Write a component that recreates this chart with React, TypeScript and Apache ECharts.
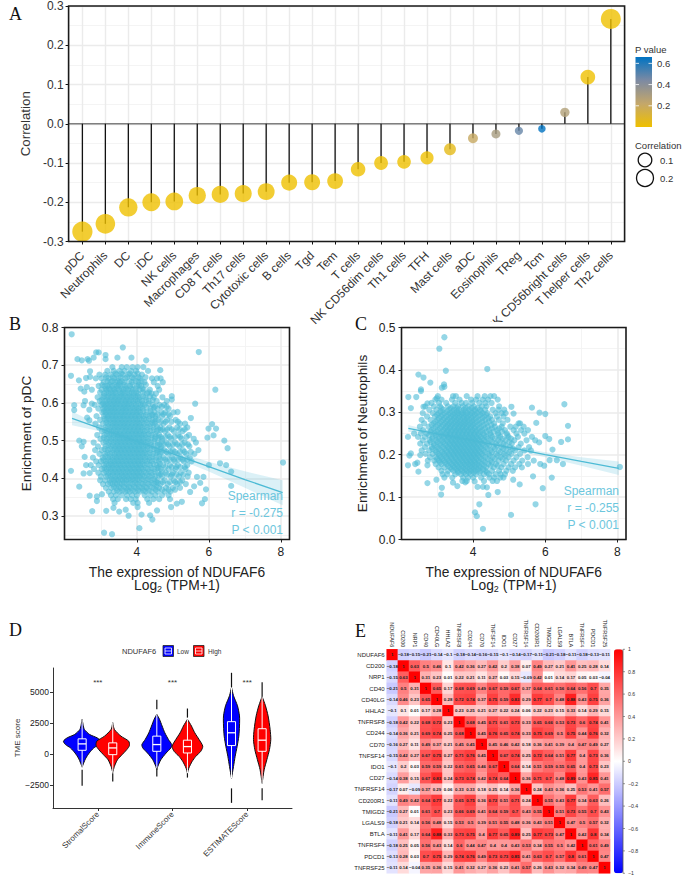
import React, { useEffect, useRef } from "react";
import * as echarts from "echarts";

const SANS = "Liberation Sans";
const SERIF = "Liberation Serif";

// ---------- Panel A ----------
const cellTypes = ["pDC","Neutrophils","DC","iDC","NK cells","Macrophages","CD8 T cells","Th17 cells","Cytotoxic cells","B cells","Tgd","Tem","T cells","NK CD56dim cells","Th1 cells","TFH","Mast cells","aDC","Eosinophils","TReg","Tcm","NK CD56bright cells","T helper cells","Th2 cells"];
const correlations = [-0.275,-0.255,-0.213,-0.2,-0.198,-0.183,-0.18,-0.178,-0.173,-0.15,-0.149,-0.146,-0.116,-0.1,-0.097,-0.087,-0.065,-0.037,-0.026,-0.018,-0.013,0.029,0.119,0.267];
const pValues = [0.001,0.001,0.001,0.001,0.001,0.001,0.001,0.001,0.001,0.001,0.001,0.001,0.001,0.001,0.001,0.002,0.05,0.2,0.3,0.47,0.65,0.27,0.001,0.001];
const pTicks = [0.6, 0.4, 0.2];
const pColors = ["#EFC000", "#C4A76A", "#7C8AA3", "#0073C2"];

// ---------- Panel B ----------
const pdcOutliers = [[2.19,.782],[3.61,.747],[5.72,.735],[2.35,.716],[2.47,.713],[2.63,.716],[2.67,.712],[2.8,.72],[2.87,.734],[2.94,.734],[3.13,.727],[3.13,.716],[3.46,.72],[3.85,.72],[4.26,.713],[2.17,.672],[2.39,.66],[2.59,.666],[2.7,.684],[2.7,.669],[2.44,.638],[2.61,.642],[2.75,.635],[2.54,.63],[2.26,.594],[2.26,.581],[2.56,.605],[2.52,.594],[2.68,.582],[2.62,.561],[2.68,.554],[2.75,.598],[4.65,.687],[6.18,.635],[4.97,.618],[4.97,.609],[5.62,.598],[5.5,.56],[5.13,.576],[6.09,.544],[6.2,.532],[5.99,.532],[6.13,.514],[5.96,.508],[6.43,.5],[6.52,.48],[8.06,.442],[6,.435],[6.31,.44],[6.48,.435],[6.62,.418],[6.62,.38],[5.85,.404],[5.92,.371],[5.76,.388],[5.89,.345],[5.81,.334],[5.59,.379],[5.48,.364],[5.67,.404],[2.17,.42],[2.4,.378],[2.69,.354],[2.89,.352],[2.89,.34],[3.03,.358],[2.76,.313],[3.15,.314],[3.35,.322],[3.51,.312],[3.69,.317],[3.77,.301],[3.09,.256],[3.31,.252],[4.07,.268],[4.13,.304],[4.02,.324],[4.37,.302],[4.43,.291],[4.56,.315],[4.95,.324],[5.25,.338],[5.11,.333],[2.4,.5],[2.52,.497],[2.47,.485],[2.55,.457],[2.59,.435],[2.52,.413],[2.69,.414]];
const pdcCoreRows: [number, number[]][] = [
[.695,[3.32,3.58,3.72,3.88,4.02,4.18]],
[.685,[3.18,3.36,3.52,3.66,3.84,3.98,4.31]],
[.675,[2.96,3.12,3.28,3.44,3.61,3.77,3.93,4.14]],
[.665,[2.86,3.02,3.21,3.37,3.49,3.68,3.91,4.09,4.42,4.56,4.66]],
[.655,[3.08,3.26,3.41,3.53,3.64,3.86,4.04,4.21,4.47,4.72]],
[.645,[2.94,3.11,3.19,3.31,3.46,3.55,3.72,3.81,4.01,4.12,4.58]],
[.635,[3.02,3.16,3.27,3.38,3.5,3.63,3.75,3.89,4.07,4.19,4.36,4.62]],
[.625,[3.09,3.22,3.33,3.43,3.57,3.66,3.79,3.92,4.03,4.28,4.41,4.53]],
[.615,[2.91,3.05,3.18,3.29,3.4,3.51,3.62,3.73,3.84,3.96,4.08,4.24,4.47,4.71]],
[.605,[2.97,3.13,3.24,3.35,3.46,3.56,3.68,3.78,3.9,4.02,4.14,4.33,4.55,4.83]],
[.595,[2.83,3.01,3.1,3.21,3.32,3.42,3.53,3.64,3.74,3.85,3.97,4.11,4.22,4.44,4.63,4.76]],
[.585,[2.93,3.07,3.17,3.28,3.38,3.49,3.6,3.7,3.81,3.93,4.04,4.16,4.38,4.57,4.88]],
[.575,[3.04,3.14,3.25,3.35,3.45,3.56,3.66,3.77,3.88,3.99,4.09,4.27,4.49,4.68,4.79,5.02]],
[.565,[2.88,3.09,3.2,3.31,3.41,3.52,3.62,3.73,3.84,3.95,4.06,4.18,4.35,4.52,4.7,4.92]],
[.555,[2.98,3.15,3.26,3.37,3.47,3.58,3.69,3.79,3.9,4.01,4.13,4.26,4.43,4.6,4.84,5.08]],
[.545,[2.85,3.06,3.21,3.33,3.43,3.54,3.64,3.75,3.86,3.97,4.07,4.2,4.36,4.51,4.74,5.2,5.34]],
[.535,[2.95,3.12,3.27,3.38,3.49,3.6,3.7,3.81,3.92,4.03,4.14,4.29,4.46,4.65,4.9,5.12,5.4]],
[.525,[3.03,3.18,3.3,3.42,3.53,3.65,3.76,3.87,3.98,4.09,4.21,4.37,4.55,4.78,5.03,5.27]],
[.515,[2.9,3.1,3.24,3.36,3.47,3.58,3.69,3.8,3.91,4.02,4.13,4.25,4.41,4.62,4.86,5.15,5.45]],
[.505,[2.99,3.16,3.29,3.41,3.52,3.63,3.74,3.85,3.96,4.07,4.18,4.32,4.5,4.7,4.95,5.24,5.58]],
[.495,[2.8,3.07,3.22,3.35,3.46,3.57,3.68,3.79,3.9,4.01,4.12,4.24,4.39,4.58,4.82,5.06,5.33,5.64]],
[.485,[2.92,3.13,3.28,3.4,3.51,3.62,3.73,3.84,3.95,4.06,4.17,4.3,4.47,4.68,4.91,5.18,5.46]],
[.475,[2.84,3.02,3.19,3.34,3.45,3.56,3.67,3.78,3.89,4.0,4.11,4.23,4.38,4.56,4.76,5.0,5.28,5.71]],
[.465,[2.96,3.11,3.25,3.39,3.5,3.61,3.72,3.83,3.94,4.05,4.16,4.28,4.45,4.64,4.87,5.11,5.37,5.6]],
[.455,[2.78,3.05,3.2,3.33,3.44,3.55,3.66,3.77,3.88,3.99,4.1,4.22,4.36,4.53,4.74,4.98,5.21,5.47]],
[.445,[2.87,3.0,3.14,3.27,3.38,3.49,3.6,3.71,3.82,3.93,4.04,4.15,4.29,4.42,4.61,4.83,5.05,5.3,5.52]],
[.435,[2.72,2.94,3.09,3.22,3.32,3.43,3.54,3.65,3.76,3.87,3.98,4.09,4.21,4.37,4.55,4.73,4.92,5.14,5.4]],
[.425,[2.81,3.03,3.16,3.28,3.39,3.5,3.61,3.72,3.83,3.94,4.05,4.16,4.31,4.48,4.66,4.88,5.08,5.35]],
[.415,[2.93,3.08,3.22,3.34,3.45,3.57,3.68,3.79,3.9,4.01,4.12,4.26,4.41,4.59,4.8,5.0,5.22,5.44]],
[.405,[3.0,3.15,3.27,3.4,3.52,3.63,3.74,3.86,3.97,4.08,4.2,4.35,4.51,4.7,4.94,5.17,5.41]],
[.395,[2.98,3.12,3.25,3.37,3.48,3.6,3.71,3.83,3.95,4.07,4.23,4.39,4.57,4.77,5.03,5.26]],
[.385,[3.06,3.2,3.33,3.45,3.58,3.72,3.88,4.02,4.17,4.33,4.49,4.66,4.86,5.12,5.36]],
[.375,[3.14,3.29,3.43,3.56,3.71,3.84,3.99,4.14,4.28,4.46,4.62,4.81,5.0,5.2]],
[.365,[3.22,3.36,3.52,3.68,3.8,3.95,4.1,4.25,4.42,4.58,4.77,4.93]],
[.355,[3.28,3.42,3.58,3.73,3.87,4.0,4.22,4.38,4.52,4.7,4.88]],
[.345,[3.34,3.47,3.7,3.83,3.97,4.29,4.46,4.62,4.92]],
[.335,[3.38,3.9,4.02,4.34]],
];
const pdcDenseRows: [number, number[]][] = [
[.678,[3.41,3.57,3.8,4.02]],
[.668,[3.15,3.33,3.55,3.73,3.87,4.04,4.24]],
[.658,[3.18,3.32,3.47,3.58,3.79,3.97,4.13]],
[.648,[3.04,3.24,3.39,3.5,3.66,3.88,4.06,4.25]],
[.638,[3.13,3.23,3.35,3.44,3.58,3.7,3.85,3.98,4.15]],
[.628,[2.98,3.15,3.28,3.39,3.52,3.61,3.74,3.86,3.99,4.17,4.33]],
[.618,[3.09,3.21,3.34,3.45,3.56,3.67,3.79,3.9,4.02,4.17,4.37]],
[.608,[3.03,3.18,3.3,3.4,3.5,3.62,3.72,3.84,3.96,4.08,4.26,4.44]],
[.598,[3.06,3.16,3.26,3.37,3.47,3.58,3.69,3.79,3.91,4.04,4.17,4.33]],
[.588,[3.12,3.22,3.33,3.43,3.55,3.65,3.75,3.87,3.98,4.1,4.27,4.47]],
[.578,[3.09,3.2,3.3,3.4,3.5,3.61,3.71,3.82,3.93,4.04,4.18,4.38]],
[.568,[3.15,3.25,3.36,3.46,3.57,3.67,3.78,3.89,4.0,4.12,4.26,4.43]],
[.558,[3.1,3.21,3.32,3.42,3.53,3.63,3.74,3.85,3.96,4.07,4.2,4.34,4.52]],
[.548,[3.15,3.27,3.38,3.48,3.59,3.69,3.8,3.91,4.02,4.13,4.28,4.43]],
[.538,[3.2,3.33,3.44,3.54,3.65,3.75,3.86,3.97,4.08,4.21,4.37,4.56]],
[.528,[3.11,3.24,3.36,3.47,3.59,3.7,3.81,3.92,4.03,4.15,4.29,4.46,4.66]],
[.518,[3.17,3.3,3.42,3.53,3.64,3.75,3.86,3.97,4.08,4.19,4.33,4.51]],
[.508,[3.08,3.23,3.35,3.47,3.58,3.69,3.8,3.91,4.02,4.13,4.26,4.41,4.6]],
[.498,[3.14,3.28,3.41,3.52,3.63,3.74,3.85,3.96,4.07,4.18,4.31,4.48,4.7]],
[.488,[3.21,3.34,3.46,3.57,3.68,3.79,3.9,4.01,4.12,4.24,4.39,4.58]],
[.478,[3.11,3.27,3.4,3.51,3.62,3.73,3.84,3.95,4.06,4.17,4.3,4.47,4.66]],
[.468,[3.18,3.32,3.45,3.56,3.67,3.78,3.89,4.0,4.11,4.22,4.36,4.54]],
[.458,[3.12,3.26,3.39,3.5,3.61,3.72,3.83,3.94,4.05,4.16,4.29,4.44,4.62]],
[.448,[3.07,3.21,3.33,3.44,3.55,3.66,3.77,3.88,3.99,4.1,4.22,4.36,4.52]],
[.438,[3.15,3.27,3.38,3.49,3.6,3.71,3.82,3.93,4.04,4.15,4.29,4.46,4.64]],
[.428,[3.1,3.22,3.33,3.45,3.56,3.67,3.78,3.89,4.0,4.11,4.24,4.4,4.57]],
[.418,[3.15,3.28,3.4,3.51,3.62,3.74,3.85,3.96,4.07,4.19,4.34,4.5,4.7]],
[.408,[3.2,3.33,3.46,3.58,3.69,3.8,3.92,4.03,4.14,4.28,4.43,4.61]],
[.398,[3.3,3.42,3.54,3.66,3.78,3.89,4.01,4.15,4.31,4.48]],
[.388,[3.26,3.39,3.52,3.65,3.8,3.95,4.1,4.25,4.41,4.58]],
[.378,[3.36,3.5,3.64,3.78,3.92,4.06,4.21,4.37,4.54]],
[.368,[3.45,3.6,3.74,3.88,4.03,4.18,4.33]],
];
const pdcRightRows: [number, number[]][] = [
[.59,[4.5,4.69,4.83]],
[.57,[4.42,4.58,4.74,4.88]],
[.55,[4.5,4.67,4.8,4.96,5.14]],
[.53,[4.6,4.72,4.84,4.97,5.18,5.33]],
[.51,[4.52,4.66,4.79,4.91,5.05,5.2,5.38]],
[.49,[4.63,4.75,4.87,5.0,5.12,5.26,5.42]],
[.47,[4.58,4.7,4.82,4.94,5.06,5.2,5.33,5.5]],
[.45,[4.66,4.79,4.91,5.03,5.15,5.27,5.4]],
[.43,[4.61,4.79,4.97,5.09,5.21,5.33]],
[.41,[4.66,4.84,4.97,5.1,5.29]],
[.39,[4.54,4.72,4.92,5.07,5.2]],
[.37,[4.52,4.7,4.88,5.06]],
];
const pdcFitX = [2.2,3,4,5,6,7,8.05];
const pdcFitY = [.559,.532,.498,.465,.431,.397,.362];
const pdcBand = [.018,.008,.005,.008,.013,.022,.033];

// ---------- Panel C ----------
const neuOutliers = [[3.2,.477],[3.06,.45],[3.24,.398],[2.48,.389],[2.62,.382],[2.81,.37],[4.39,.402],[3.19,.366],[3.13,.358],[3.2,.36],[2.55,.354],[2.55,.35],[2.2,.336],[2.42,.336],[2.27,.31],[2.62,.313],[2.73,.321],[2.99,.333],[6.53,.319],[5.06,.313],[5.63,.311],[5.84,.299],[6,.296],[5.12,.297],[5.75,.275],[6.63,.268],[5.26,.274],[2.19,.242],[2.36,.25],[6,.244],[6.11,.237],[6.63,.236],[6.44,.23],[5.83,.229],[6.2,.212],[2.27,.203],[2.23,.198],[2.53,.199],[2.19,.175],[2.39,.178],[2.45,.181],[2.48,.16],[2.73,.175],[2.73,.133],[2.98,.141],[3.13,.122],[3.11,.106],[6.32,.187],[6.49,.178],[6.12,.187],[8.07,.171],[5.86,.178],[5.97,.174],[5.66,.149],[6.18,.146],[5.93,.121],[5.73,.083],[5.29,.13],[5.11,.141],[5.05,.058],[4.27,.025],[4.05,.064],[4.1,.055],[4.17,.083],[4.42,.105],[4.68,.112],[4.38,.123],[4.12,.124],[4.27,.124],[3.44,.134],[3.56,.126],[3.78,.135],[4.04,.137]];
const neuCoreRows: [number, number[]][] = [
[.338,[3.02,3.44,3.52,3.82,4.12,4.32,4.48,4.58]],
[.33,[2.95,3.12,3.41,3.62,3.94,4.08,4.26,4.41,4.68]],
[.322,[2.84,3.05,3.25,3.5,3.68,3.8,3.97,4.17,4.34,4.51]],
[.314,[2.67,2.91,3.08,3.3,3.45,3.58,3.71,3.86,4.02,4.24,4.37,4.72]],
[.306,[2.78,2.98,3.17,3.33,3.47,3.6,3.74,3.89,4.05,4.19,4.33,4.54,4.7,4.86]],
[.298,[2.6,2.88,3.04,3.2,3.35,3.48,3.59,3.71,3.83,3.96,4.1,4.26,4.39,4.62,4.79,4.9]],
[.29,[2.72,2.94,3.11,3.26,3.39,3.5,3.62,3.74,3.85,3.99,4.14,4.3,4.47,4.66,4.84]],
[.282,[2.57,2.82,3.0,3.16,3.29,3.42,3.54,3.65,3.77,3.88,4.01,4.16,4.33,4.52,4.71,4.95]],
[.274,[2.64,2.9,3.07,3.22,3.34,3.46,3.57,3.68,3.79,3.91,4.03,4.18,4.36,4.58,4.82,5.3]],
[.266,[2.52,2.76,2.96,3.12,3.25,3.37,3.49,3.6,3.71,3.82,3.94,4.06,4.22,4.4,4.6,4.79,5.03,5.18,5.4]],
[.258,[2.61,2.84,3.02,3.18,3.3,3.42,3.53,3.64,3.75,3.86,3.98,4.1,4.25,4.44,4.66,4.88,5.12,5.33,5.52]],
[.25,[2.55,2.71,2.93,3.09,3.23,3.35,3.47,3.58,3.69,3.8,3.91,4.02,4.14,4.29,4.47,4.69,4.93,5.2,5.42]],
[.242,[2.47,2.66,2.88,3.05,3.19,3.31,3.43,3.54,3.65,3.76,3.87,3.98,4.09,4.21,4.36,4.53,4.75,4.98,5.24,5.63]],
[.234,[2.6,2.79,2.97,3.13,3.27,3.39,3.5,3.61,3.72,3.83,3.94,4.05,4.16,4.3,4.48,4.69,4.9,5.14,5.48,5.72]],
[.226,[2.53,2.72,2.91,3.08,3.22,3.35,3.46,3.57,3.68,3.79,3.9,4.01,4.12,4.25,4.41,4.62,4.84,5.07,5.32]],
[.218,[2.66,2.85,3.0,3.16,3.3,3.42,3.53,3.64,3.75,3.86,3.97,4.08,4.2,4.35,4.56,4.78,5.02,5.26,5.55]],
[.21,[2.57,2.78,2.95,3.11,3.26,3.38,3.49,3.6,3.71,3.82,3.93,4.04,4.15,4.29,4.48,4.7,4.92,5.16,5.42,5.6]],
[.202,[2.68,2.87,3.03,3.19,3.33,3.45,3.56,3.67,3.78,3.89,4.0,4.11,4.24,4.42,4.63,4.85,5.06,5.3]],
[.194,[2.8,2.96,3.1,3.25,3.38,3.5,3.62,3.73,3.84,3.95,4.06,4.18,4.34,4.54,4.76,4.98,5.2,5.51]],
[.186,[2.74,2.92,3.05,3.18,3.32,3.45,3.57,3.69,3.8,3.91,4.02,4.14,4.29,4.48,4.7,4.91,5.12,5.36,5.68]],
[.178,[2.96,3.12,3.26,3.4,3.52,3.64,3.76,3.87,3.98,4.1,4.24,4.42,4.63,4.84,5.05,5.28,5.52]],
[.17,[3.04,3.2,3.36,3.48,3.6,3.72,3.84,3.96,4.08,4.2,4.36,4.57,4.78,4.98,5.16,5.35]],
[.162,[3.12,3.3,3.45,3.57,3.7,3.82,3.94,4.06,4.2,4.35,4.52,4.72,4.92,5.1]],
[.154,[3.15,3.28,3.5,3.66,3.8,3.93,4.08,4.3,4.44,4.62,4.76,4.88]],
[.146,[3.2,3.42,3.72,3.86,4.0,4.22,4.45,4.58,4.75,4.84]],
[.138,[3.7,3.82,4.3,4.54,4.66]],
];
const neuDenseRows: [number, number[]][] = [
[.31,[3.12,3.38,3.55,3.79,3.96,4.12]],
[.302,[3.1,3.27,3.42,3.55,3.67,3.79,3.93,4.06,4.22]],
[.294,[3.0,3.15,3.31,3.44,3.56,3.68,3.8,3.92,4.05,4.2,4.36]],
[.286,[3.05,3.2,3.35,3.47,3.59,3.71,3.83,3.95,4.08,4.25,4.42]],
[.278,[2.95,3.11,3.26,3.38,3.5,3.62,3.74,3.84,3.97,4.1,4.25,4.44]],
[.27,[2.85,3.02,3.17,3.3,3.41,3.53,3.64,3.75,3.87,3.98,4.12,4.29,4.5]],
[.262,[2.9,3.08,3.23,3.35,3.47,3.58,3.69,3.8,3.92,4.04,4.17,4.33,4.52,4.72]],
[.254,[2.82,2.99,3.14,3.28,3.39,3.51,3.62,3.73,3.84,3.95,4.07,4.2,4.37,4.57,4.8]],
[.246,[2.78,2.96,3.12,3.26,3.37,3.49,3.6,3.71,3.82,3.93,4.04,4.16,4.31,4.49,4.7,4.95]],
[.238,[2.86,3.03,3.18,3.32,3.44,3.56,3.67,3.78,3.89,4.0,4.11,4.24,4.4,4.6,4.82,5.05]],
[.23,[2.82,3.0,3.16,3.3,3.42,3.53,3.64,3.75,3.86,3.97,4.08,4.2,4.34,4.53,4.75,5.0]],
[.222,[2.92,3.08,3.24,3.37,3.49,3.6,3.71,3.82,3.93,4.04,4.15,4.28,4.45,4.66,4.9]],
[.214,[2.87,3.04,3.2,3.33,3.45,3.56,3.67,3.78,3.89,4.0,4.11,4.23,4.4,4.6,4.84,5.1]],
[.206,[2.98,3.14,3.28,3.41,3.52,3.63,3.74,3.85,3.96,4.07,4.18,4.33,4.52,4.76,5.0]],
[.198,[3.06,3.2,3.34,3.46,3.58,3.69,3.8,3.91,4.02,4.13,4.27,4.46,4.68,4.9]],
[.19,[3.0,3.14,3.28,3.41,3.53,3.65,3.76,3.87,3.98,4.09,4.22,4.4,4.6,4.82]],
[.182,[3.08,3.22,3.35,3.48,3.6,3.72,3.83,3.94,4.05,4.17,4.33,4.52]],
[.174,[3.3,3.44,3.56,3.68,3.8,3.92,4.04,4.16,4.3,4.48,4.68]],
[.166,[3.4,3.54,3.66,3.78,3.9,4.02,4.14,4.28]],
[.158,[3.58,3.74,3.88,4.02,4.18,4.38]],
];
const neuFitX = [2.2,3,4,5,6,7,8.04];
const neuFitY = [.262,.249,.233,.217,.2,.184,.168];
const neuBand = [.008,.004,.002,.004,.006,.01,.016];

// ---------- Panel D ----------
const scoreNames = ["StromalScore","ImmuneScore","ESTIMATEScore"];
const scoreTicks = [-2500,0,2500,5000];
const violinCentres = [0.79,1.2,1.79,2.2,2.79,3.2];
const violinFills = ["#0000FF","#FF0000","#0000FF","#FF0000","#0000FF","#FF0000"];
const violinLevels = [
 [2799,2391,1983,1576,1304,1032,761,489,82,-326,-734,-1060],
 [2527,1983,1440,1032,679,353,-54,-462,-1005,-1494],
 [3206,2799,2255,1712,1168,761,489,82,-462,-1005,-1277],
 [2799,2255,1712,1168,625,217,-190,-598,-1141,-1549],
 [5380,4700,3885,3070,2255,1440,625,-190,-1005,-1956],
 [4646,3885,3070,1983,1168,353,-462,-1277,-2364],
];
const violinWidths = [
 [0,.012,.03,.1,.2,.25,.223,.156,.095,.05,.02,0],
 [0,.022,.11,.214,.223,.188,.125,.063,.022,0],
 [0,.036,.071,.107,.156,.2,.188,.125,.054,.013,0],
 [0,.054,.098,.156,.205,.179,.112,.063,.018,0],
 [0,.027,.08,.107,.107,.098,.076,.049,.027,0],
 [0,.045,.08,.107,.116,.098,.063,.027,0],
];
const boxQ1 = [299,-54,217,82,679,217];
const boxMedian = [815,489,761,598,1712,1114];
const boxQ3 = [1223,897,1440,1114,2608,2038];
const outlierRuns = [
 [[-1277,-2554]],
 [[-1549,-2228]],
 [[3614,4374],[-1141,-1820]],
 [[2934,3668],[-1549,-1902]],
 [[5380,6548],[-2771,-3940]],
 [[4646,5787],[-2771,-3722]],
];
const sigY = 5733;

// ---------- Panel E ----------
const genes = ["NDUFAF6","CD200","NRP1","CD40","CD40LG","HHLA2","TNFRSF8","CD244","CD70","TNFSF14","IDO1","CD27","TNFRSF14","CD200R1","TMIGD2","LGALS9","BTLA","TNFRSF4","PDCD1","TNFRSF25"];
const corrUpper = [
 [1,-.18,-.15,-.21,-.14,-.1,-.18,-.14,-.16,-.15,-.1,-.14,-.17,-.11,-.21,-.18,-.11,-.18,-.13,-.11],
 [1,.63,.5,.46,.1,.42,.36,.27,.42,.2,.38,.07,.49,.27,.21,.41,.25,.28,.14],
 [1,.31,.23,.01,.22,.21,.11,.27,.03,.15,-.09,.42,.01,.14,.17,.05,.03,-.04],
 [1,.65,.17,.68,.69,.49,.67,.59,.67,.37,.64,.61,.56,.64,.56,.7,.35],
 [1,.28,.72,.74,.37,.75,.59,.83,.29,.77,.7,.48,.88,.43,.75,.36],
 [1,.23,.25,.21,.27,.22,.24,.06,.22,.23,.15,.33,.14,.29,.15],
 [1,.68,.45,.71,.61,.73,.33,.65,.66,.53,.73,.6,.74,.41],
 [1,.45,.76,.65,.74,.33,.75,.69,.5,.75,.44,.76,.32],
 [1,.45,.46,.42,.18,.36,.41,.39,.4,.47,.49,.27],
 [1,.67,.74,.25,.72,.64,.51,.77,.4,.73,.36],
 [1,.64,.14,.51,.59,.55,.65,.4,.73,.23],
 [1,.36,.71,.7,.48,.89,.43,.85,.41],
 [1,.24,.43,.36,.25,.53,.41,.57],
 [1,.55,.43,.77,.34,.63,.26],
 [1,.51,.73,.55,.7,.43],
 [1,.47,.5,.57,.32],
 [1,.42,.8,.34],
 [1,.61,.49],
 [1,.47],
 [1],
];
const corrBarTicks = [1,.8,.6,.4,.2,0,-.2,-.4,-.6,-.8,-1];

// ---------- helpers ----------
const TEAL = "#4DBBD5";
const flatten = (rows: [number, number[]][]) => rows.flatMap(([y, xs]) => xs.map((x) => [x, y]));
const signed = (v: number) => String(v).replace("-", "\u2212");
const txt = (x: number, y: number, text: string, o: any = {}) => ({
  type: "text", x, y, z: 20, silent: true,
  style: { text, fill: o.fill || "#222", fontSize: o.size || 11, fontFamily: o.family || SANS, align: o.align || "left", verticalAlign: "middle" },
});
const box = (b: any) => ({ type: "rect", z: 15, silent: true, shape: { x: b.left, y: b.top, width: b.width, height: b.height }, style: { fill: "none", stroke: "#1a1a1a", lineWidth: 1.6 } });

function scatterAxes(grid: number, xMin: number, xMax: number, yMin: number, yMax: number, yMajor: number[], yMinor: number[], yTitle: string, yGap: number) {
  const xMajor = [4, 6, 8];
  const xMinor = [3, 5, 7];
  const font = { color: "#222", fontFamily: SANS, fontSize: 12 };
  const major = { show: true, lineStyle: { color: "#EBEBEB", width: 1.6 } };
  const minor = { show: true, lineStyle: { color: "#F3F3F3", width: 0.9 } };
  const x = [
    { type: "value", gridIndex: grid, min: xMin, max: xMax, z: 2,
      name: "The expression of NDUFAF6\n{t|Log}{s|2}{t| (TPM+1)}", nameLocation: "middle", nameGap: 26,
      nameTextStyle: { fontFamily: SANS, fontSize: 13.8, color: "#222", lineHeight: 13.5, rich: { t: { fontFamily: SANS, fontSize: 13.8, color: "#222" }, s: { fontFamily: SANS, fontSize: 9, color: "#222", padding: [6, 0, 0, 0] } } },
      axisLine: { show: false, onZero: false }, axisTick: { show: true, length: 3, customValues: xMajor, lineStyle: { color: "#222" } },
      axisLabel: { ...font, margin: 6, customValues: xMajor, formatter: (v: number) => String(v) }, splitLine: major },
    { type: "value", gridIndex: grid, min: xMin, max: xMax, z: 2, position: "top",
      axisLine: { show: false, onZero: false }, axisTick: { show: false, customValues: xMinor }, axisLabel: { show: false, customValues: xMinor }, splitLine: minor },
  ];
  const y = [
    { type: "value", gridIndex: grid, min: yMin, max: yMax, z: 2,
      name: yTitle, nameLocation: "middle", nameGap: yGap, nameTextStyle: { fontFamily: SANS, fontSize: 13.7, color: "#222" },
      axisLine: { show: false, onZero: false }, axisTick: { show: true, length: 3, customValues: yMajor, lineStyle: { color: "#222" } },
      axisLabel: { ...font, margin: 6, customValues: yMajor, formatter: (v: number) => v.toFixed(1) }, splitLine: major },
    { type: "value", gridIndex: grid, min: yMin, max: yMax, z: 2, position: "right",
      axisLine: { show: false, onZero: false }, axisTick: { show: false, customValues: yMinor }, axisLabel: { show: false, customValues: yMinor }, splitLine: minor },
  ];
  return { x, y };
}

function scatterSeries(axisIdx: number, pts: number[][], fitX: number[], fitY: number[], band: number[]) {
  return [
    { type: "scatter", xAxisIndex: axisIdx, yAxisIndex: axisIdx, z: 3, data: pts, symbolSize: 6.2, itemStyle: { color: TEAL, opacity: 0.6 }, silent: true },
    { type: "custom", xAxisIndex: axisIdx, yAxisIndex: axisIdx, z: 4, silent: true, data: [[fitX[0], fitY[0]]],
      renderItem: (_p: any, api: any) => {
        const up = fitX.map((x, i) => api.coord([x, fitY[i] + band[i]]));
        const lo = fitX.map((x, i) => api.coord([x, fitY[i] - band[i]])).reverse();
        return { type: "polygon", shape: { points: [...up, ...lo] }, style: { fill: "rgba(77,187,213,0.2)" } };
      } },
    { type: "line", xAxisIndex: axisIdx, yAxisIndex: axisIdx, z: 5, silent: true, data: fitX.map((x, i) => [x, fitY[i]]), showSymbol: false, lineStyle: { color: TEAL, width: 1.3 } },
  ];
}

export default function App() {
  const ref = useRef<HTMLDivElement>(null);
  useEffect(() => {
    const chart = echarts.init(ref.current!, null, { renderer: "svg" });

    const A = { left: 68.6, top: 6, width: 556, height: 235.5 };
    const B = { left: 64.5, top: 327.5, width: 225, height: 212 };
    const C = { left: 401.5, top: 327.5, width: 224.5, height: 212 };
    const D = { left: 53, top: 668, width: 239, height: 140 };
    const E = { left: 386.7, top: 649.3, width: 223.4, height: 224 };
    const sans = { fontFamily: SANS };

    const bAxes = scatterAxes(1, 1.99, 8.24, 0.238, 0.8, [.3,.4,.5,.6,.7,.8], [.25,.35,.45,.55,.65,.75], "Enrichment of pDC", 31);
    const cAxes = scatterAxes(2, 2.01, 8.24, 0, 0.5, [0,.1,.2,.3,.4,.5], [.05,.15,.25,.35,.45], "Enrichment of Neutrophils", 32);

    const corrData: number[][] = [];
    corrUpper.forEach((row, i) => row.forEach((v, k) => {
      corrData.push([i + k, i, v]);
      if (k > 0) corrData.push([i, i + k, v]);
    }));

    const xIdx = cellTypes.map((_, i) => i + 1);
    const option: any = {
      animation: false,
      backgroundColor: "#fff",
      textStyle: sans,
      grid: [
        { ...A, z: 0 },
        { ...B, z: 2 },
        { ...C, z: 2 },
        { ...D, z: 2 },
        { ...E, z: 2 },
      ],
      xAxis: [
        { type: "value", gridIndex: 0, min: 0.4, max: 24.6, z: 0,
          axisLine: { show: false, onZero: false },
          axisTick: { show: true, length: 3, customValues: xIdx, lineStyle: { color: "#111" } },
          axisLabel: { color: "#333", fontFamily: SANS, fontSize: 12, rotate: 45, margin: 12, customValues: xIdx, formatter: (v: number) => cellTypes[v - 1] },
          splitLine: { show: true, lineStyle: { color: "#EBEBEB", width: 1.4 } } },
        ...bAxes.x, ...cAxes.x,
        { type: "value", gridIndex: 3, min: 0.4, max: 3.6, z: 2,
          axisLine: { show: true, onZero: false, lineStyle: { color: "#333", width: 1 } },
          axisTick: { show: true, length: 3, customValues: [1,2,3], lineStyle: { color: "#333" } },
          axisLabel: { color: "#333", fontFamily: SANS, fontSize: 8, rotate: 45, margin: 5, customValues: [1,2,3], formatter: (v: number) => scoreNames[v - 1] },
          splitLine: { show: false } },
        { type: "category", gridIndex: 4, data: genes, position: "top", z: 2,
          axisLine: { show: false }, axisTick: { show: false },
          axisLabel: { color: "#222", fontFamily: SANS, fontSize: 5.5, rotate: 90, margin: 2, interval: 0 } },
      ],
      yAxis: [
        { type: "value", gridIndex: 0, min: -0.3, max: 0.3, interval: 0.1, z: 0,
          name: "Correlation", nameLocation: "middle", nameGap: 36, nameTextStyle: { fontFamily: SANS, fontSize: 13.3, color: "#333" },
          axisLine: { show: false, onZero: false },
          axisTick: { show: true, length: 3, lineStyle: { color: "#111" } },
          axisLabel: { color: "#333", fontFamily: SANS, fontSize: 12, margin: 5, formatter: (v: number) => (Math.abs(v) < 1e-9 ? "0.0" : v.toFixed(1)) },
          splitLine: { show: true, lineStyle: { color: "#EBEBEB", width: 1.4 } },
          minorTick: { show: false, splitNumber: 2 },
          minorSplitLine: { show: true, lineStyle: { color: "#F3F3F3", width: 0.9 } } },
        ...bAxes.y, ...cAxes.y,
        { type: "value", gridIndex: 3, min: -4355, max: 6935, z: 2,
          name: "TME score", nameLocation: "middle", nameGap: 28, nameTextStyle: { fontFamily: SANS, fontSize: 8, color: "#333" },
          axisLine: { show: true, onZero: false, lineStyle: { color: "#333", width: 1 } },
          axisTick: { show: true, length: 3, customValues: scoreTicks, lineStyle: { color: "#333" } },
          axisLabel: { color: "#222", fontFamily: SANS, fontSize: 8.5, margin: 4, customValues: scoreTicks, formatter: (v: number) => signed(v) },
          splitLine: { show: false } },
        { type: "category", gridIndex: 4, data: genes, inverse: true, z: 2,
          axisLine: { show: false }, axisTick: { show: false },
          axisLabel: { color: "#222", fontFamily: SANS, fontSize: 6, margin: 2, interval: 0 } },
      ],
      visualMap: [
        { type: "continuous", show: false, seriesIndex: 2, dimension: 2, min: 0, max: 0.65, inRange: { color: pColors } },
        { type: "continuous", show: true, seriesIndex: 10, dimension: 2, min: -1, max: 1, left: 614, top: 649.3, itemWidth: 9, itemHeight: 224, text: null, calculable: false, hoverLink: false, inRange: { color: ["#0000FF", "#FFFFFF", "#FF0000"] }, padding: 0 },
      ],
      series: [
        // 0: zero line of A
        { type: "line", xAxisIndex: 0, yAxisIndex: 0, z: 3, silent: true, showSymbol: false, data: [[0.4, 0], [24.6, 0]], lineStyle: { color: "#7f7f7f", width: 1.5 } },
        // 1: stems
        { type: "custom", xAxisIndex: 0, yAxisIndex: 0, z: 4, silent: true,
          data: correlations.map((c, i) => [i + 1, c]),
          renderItem: (_p: any, api: any) => {
            const a = api.coord([api.value(0), 0]);
            const b = api.coord([api.value(0), api.value(1)]);
            return { type: "line", shape: { x1: a[0], y1: a[1], x2: b[0], y2: b[1] }, style: { stroke: "#111", lineWidth: 1.3 } };
          } },
        // 2: lollipop heads
        { type: "scatter", xAxisIndex: 0, yAxisIndex: 0, z: 5, silent: true,
          data: correlations.map((c, i) => [i + 1, c, pValues[i]]),
          symbolSize: (v: number[]) => 4 + 31 * Math.sqrt(Math.abs(v[1])) },
        // 3-5: B, 6-8: C
        ...scatterSeries(1, [...pdcOutliers, ...flatten(pdcCoreRows), ...flatten(pdcDenseRows), ...flatten(pdcRightRows)], pdcFitX, pdcFitY, pdcBand),
        ...scatterSeries(3, [...neuOutliers, ...flatten(neuCoreRows), ...flatten(neuDenseRows)], neuFitX, neuFitY, neuBand),
        // 9: violins
        { type: "custom", xAxisIndex: 5, yAxisIndex: 5, z: 4, silent: true,
          data: violinCentres.map((c, i) => [c, boxMedian[i], i]),
          renderItem: (_p: any, api: any) => {
            const i = api.value(2);
            const cx = violinCentres[i];
            const lev = violinLevels[i];
            const wid = violinWidths[i];
            const right = lev.map((v, k) => api.coord([cx + wid[k], v]));
            const left = lev.map((v, k) => api.coord([cx - wid[k], v])).reverse();
            const top = api.coord([cx, lev[0]]);
            const bottom = api.coord([cx, lev[lev.length - 1]]);
            const hw = 0.054;
            const p1 = api.coord([cx - hw, boxQ3[i]]);
            const p2 = api.coord([cx + hw, boxQ1[i]]);
            const m1 = api.coord([cx - hw, boxMedian[i]]);
            const m2 = api.coord([cx + hw, boxMedian[i]]);
            const children: any[] = [
              { type: "polygon", shape: { points: [...right, ...left], smooth: 0.25 }, style: { fill: violinFills[i], stroke: "#111", lineWidth: 1 } },
              { type: "line", shape: { x1: top[0], y1: top[1], x2: bottom[0], y2: bottom[1] }, style: { stroke: "#fff", lineWidth: 1 } },
              { type: "rect", shape: { x: p1[0], y: p1[1], width: p2[0] - p1[0], height: p2[1] - p1[1] }, style: { fill: violinFills[i], stroke: "#fff", lineWidth: 1 } },
              { type: "line", shape: { x1: m1[0], y1: m1[1], x2: m2[0], y2: m2[1] }, style: { stroke: "#fff", lineWidth: 1.3 } },
            ];
            outlierRuns[i].forEach(([a, b]) => {
              const s = api.coord([cx, a]);
              const e = api.coord([cx, b]);
              children.push({ type: "line", shape: { x1: s[0], y1: s[1], x2: e[0], y2: e[1] }, style: { stroke: "#111", lineWidth: 1.2 } });
            });
            return { type: "group", children };
          } },
        // 10: heatmap
        { type: "heatmap", xAxisIndex: 6, yAxisIndex: 6, z: 3, silent: true, data: corrData,
          label: { show: true, fontSize: 4.4, fontWeight: "bold", color: "#222", fontFamily: SANS, formatter: (p: any) => signed(p.value[2]) } },
        // 11: significance stars
        { type: "custom", xAxisIndex: 5, yAxisIndex: 5, z: 5, silent: true,
          data: [[1, sigY], [2, sigY], [3, sigY]],
          renderItem: (_p: any, api: any) => {
            const c = api.coord([api.value(0), api.value(1)]);
            return { type: "text", x: c[0], y: c[1], style: { text: "***", fontSize: 8, fontFamily: SANS, fill: "#333", align: "center", verticalAlign: "middle" } };
          } },
      ],
      graphic: { elements: [
        // mask where panel C sits on top of the last long label of panel A
        { type: "rect", z: 1, silent: true, shape: { x: 340, y: 322, width: 345, height: 24 }, style: { fill: "#fff" } },
        box(A), box(B), box(C),
        // panel letters
        txt(9, 14, "A", { family: SERIF, size: 18, fill: "#111" }),
        txt(9, 324, "B", { family: SERIF, size: 18, fill: "#111" }),
        txt(355, 324, "C", { family: SERIF, size: 18, fill: "#111" }),
        txt(9, 630, "D", { family: SERIF, size: 18, fill: "#111" }),
        txt(355, 631, "E", { family: SERIF, size: 18, fill: "#111" }),
        // P value colour bar
        txt(635, 49, "P value", { size: 9.5, fill: "#333" }),
        { type: "rect", z: 20, silent: true, shape: { x: 635.5, y: 57, width: 16.5, height: 70 },
          style: { fill: new echarts.graphic.LinearGradient(0, 1, 0, 0, pColors.map((color, i) => ({ offset: i / (pColors.length - 1), color }))) } },
        ...pTicks.flatMap((p) => {
          const y = 127 - 70 * (p / 0.66);
          return [
            { type: "line", z: 21, silent: true, shape: { x1: 635.5, y1: y, x2: 639, y2: y }, style: { stroke: "#fff", lineWidth: 0.8 } },
            { type: "line", z: 21, silent: true, shape: { x1: 648.5, y1: y, x2: 652, y2: y }, style: { stroke: "#fff", lineWidth: 0.8 } },
            txt(657, y, p.toFixed(1), { size: 9.5, fill: "#333" }),
          ];
        }),
        // Correlation size legend
        txt(635, 145, "Correlation", { size: 9.5, fill: "#333" }),
        { type: "circle", z: 20, silent: true, shape: { cx: 645, cy: 160, r: 6.8 }, style: { fill: "#fff", stroke: "#111", lineWidth: 1.3 } },
        { type: "circle", z: 20, silent: true, shape: { cx: 645, cy: 178, r: 8.5 }, style: { fill: "#fff", stroke: "#111", lineWidth: 1.3 } },
        txt(660, 160, "0.1", { size: 9.5, fill: "#333" }),
        txt(660, 178, "0.2", { size: 9.5, fill: "#333" }),
        // Spearman annotations
        txt(283, 496, "Spearman", { size: 12, fill: "#6CC6DD", align: "right" }),
        txt(283, 513, "r = -0.275", { size: 12, fill: "#6CC6DD", align: "right" }),
        txt(283, 530, "P < 0.001", { size: 12, fill: "#6CC6DD", align: "right" }),
        txt(619, 491, "Spearman", { size: 12, fill: "#6CC6DD", align: "right" }),
        txt(619, 508, "r = -0.255", { size: 12, fill: "#6CC6DD", align: "right" }),
        txt(619, 525, "P < 0.001", { size: 12, fill: "#6CC6DD", align: "right" }),
        // Panel D legend
        txt(122, 651, "NDUFAF6", { size: 7.5, fill: "#333" }),
        { type: "rect", z: 20, silent: true, shape: { x: 163, y: 645.5, width: 10.5, height: 11 }, style: { fill: "#0000FF", stroke: "#222", lineWidth: 0.8 } },
        { type: "rect", z: 21, silent: true, shape: { x: 165, y: 648, width: 6.5, height: 6 }, style: { fill: "#0000FF", stroke: "#fff", lineWidth: 0.8 } },
        { type: "line", z: 21, silent: true, shape: { x1: 165, y1: 651, x2: 171.5, y2: 651 }, style: { stroke: "#fff", lineWidth: 0.8 } },
        txt(177, 651, "Low", { size: 6.5, fill: "#333" }),
        { type: "rect", z: 20, silent: true, shape: { x: 193.5, y: 645.5, width: 10.5, height: 11 }, style: { fill: "#FF0000", stroke: "#222", lineWidth: 0.8 } },
        { type: "rect", z: 21, silent: true, shape: { x: 195.5, y: 648, width: 6.5, height: 6 }, style: { fill: "#FF0000", stroke: "#fff", lineWidth: 0.8 } },
        { type: "line", z: 21, silent: true, shape: { x1: 195.5, y1: 651, x2: 202, y2: 651 }, style: { stroke: "#fff", lineWidth: 0.8 } },
        txt(208, 651, "High", { size: 6.5, fill: "#333" }),
        // Panel E colour bar scale
        { type: "line", z: 21, silent: true, shape: { x1: 623, y1: 649.3, x2: 623, y2: 873.3 }, style: { stroke: "#555", lineWidth: 0.8 } },
        ...corrBarTicks.flatMap((v) => {
          const y = 649.3 + 224 * (1 - v) / 2;
          return [
            { type: "line", z: 21, silent: true, shape: { x1: 623, y1: y, x2: 625, y2: y }, style: { stroke: "#555", lineWidth: 0.6 } },
            txt(628, y, signed(v), { size: 5.2, fill: "#333" }),
          ];
        }),
      ] },
    };
    chart.setOption(option);
    return () => chart.dispose();
  }, []);
  return <div ref={ref} style={{ position: "absolute", left: 0, top: 0, width: 685, height: 877, background: "#fff" }} />;
}
